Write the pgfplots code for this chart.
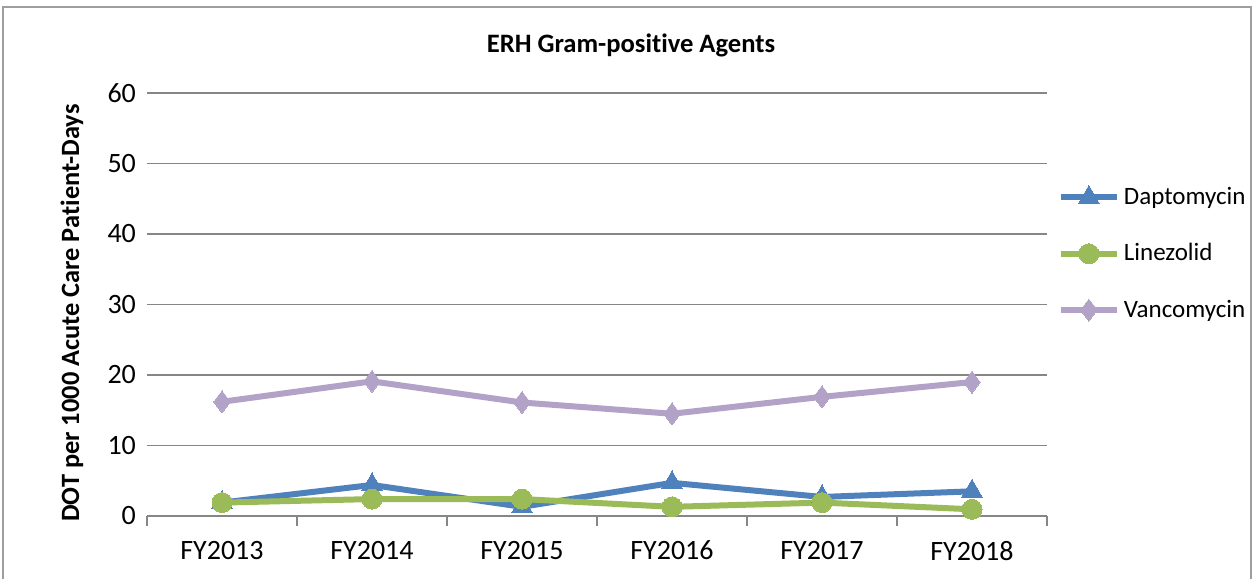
\documentclass[border=0pt]{standalone}
\usepackage{pgfplots}
\pgfplotsset{compat=1.18}
\usepackage{fontspec}
\setmainfont[Ligatures=NoCommon]{Carlito}
\definecolor{dapto}{HTML}{4F81BD}
\definecolor{line}{HTML}{9BBB59}
\definecolor{vanco}{HTML}{B3A2C7}
\definecolor{gridc}{HTML}{868686}
\begin{document}
\begin{tikzpicture}
\useasboundingbox (0,0) rectangle (627.5pt,289.5pt);
\draw[gridc!80, line width=0.8pt] (1.5pt,-5pt) rectangle (625.5pt,286pt);
\begin{axis}[
  at={(73.5pt,31.5pt)}, anchor=south west,
  scale only axis, width=450pt, height=211.5pt,
  xmin=-0.5, xmax=5.5, ymin=0, ymax=60,
  xtick={0,...,5},
  xticklabels={FY2013,FY2014,FY2015,FY2016,FY2017,FY2018},
  minor xtick={-0.5,0.5,...,5.5},
  ytick={0,10,...,60},
  major tick length=0pt,
  minor tick length=5pt,
  tick align=outside,
  axis x line*=bottom, axis y line*=left,
  x axis line style={draw=gridc, line width=0.8pt, -},
  y axis line style={draw=none},
  every minor tick/.style={draw=gridc, line width=0.8pt},
  ymajorgrids, major grid style={draw=gridc, line width=0.8pt},
  yticklabel style={font=\fontsize{14}{16}\selectfont, xshift=-2pt},
  xticklabel style={font=\fontsize{14}{16}\selectfont, yshift=-9pt},
  /pgf/number format/assume math mode=true,
  tick label style={text=black},
  legend style={draw=none, at={(rel axis cs:1.005,0.62)}, anchor=west,
    font=\fontsize{12.5}{14}\selectfont, row sep=14pt, fill=none,
    /tikz/every even column/.append style={column sep=1pt}},
  legend cell align=left,
  legend image code/.code={
    \draw[#1, mark repeat=2, mark phase=2] plot coordinates {(0pt,0pt) (14pt,0pt) (28pt,0pt)};},
  clip=false,
]
\addplot[dapto, line width=3pt, mark=triangle*, mark size=6pt, mark options={line width=0pt}]
  coordinates {(0,1.9) (1,4.4) (2,1.3) (3,4.7) (4,2.7) (5,3.5)};
\addlegendentry{Daptomycin}
\addplot[line, line width=3pt, mark=*, mark size=5pt, mark options={line width=0pt}]
  coordinates {(0,1.9) (1,2.4) (2,2.4) (3,1.3) (4,1.9) (5,0.95)};
\addlegendentry{Linezolid}
\addplot[vanco, line width=3pt, mark=diamond*, mark size=5.5pt, mark options={line width=0pt}]
  coordinates {(0,16.2) (1,19.1) (2,16.1) (3,14.5) (4,16.9) (5,19.0)};
\addlegendentry{Vancomycin}
\end{axis}
\node[font=\bfseries\fontsize{13.3}{15}\selectfont] at (315.5pt,267pt) {ERH Gram-positive Agents};
\node[rotate=90, font=\bfseries\fontsize{13.2}{15}\selectfont] at (36pt,133pt) {DOT per 1000 Acute Care Patient-Days};
\end{tikzpicture}
\end{document}
